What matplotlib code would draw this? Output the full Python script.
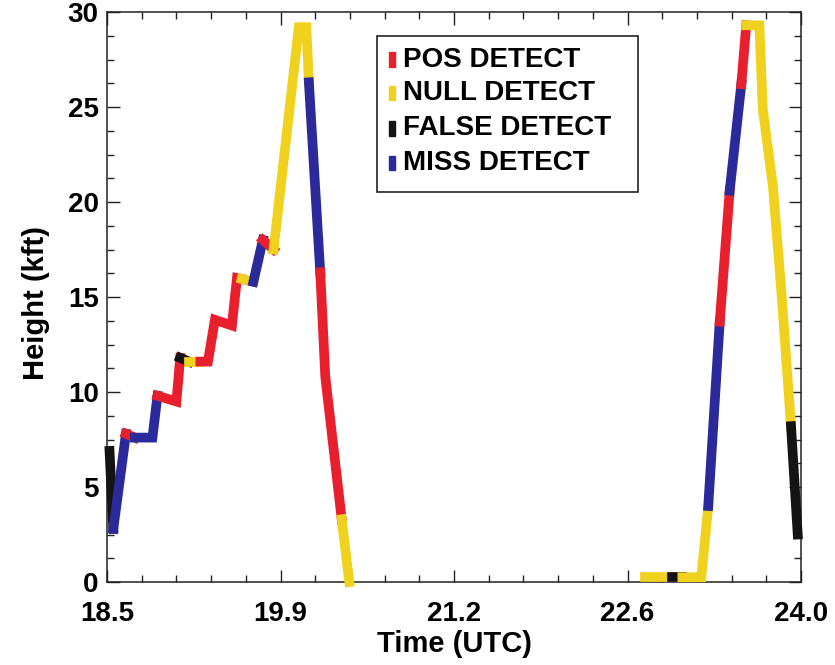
import matplotlib
matplotlib.use("Agg")
import matplotlib.pyplot as plt
from matplotlib.patches import Rectangle
from matplotlib.ticker import AutoMinorLocator, MultipleLocator

# flight track 1 (time UTC, height kft); seg1 gives the detect class of each leg
t1 = [18.52, 18.55, 18.65, 18.72, 18.86, 18.90, 19.05, 19.08, 19.15, 19.24,
      19.30, 19.355, 19.49, 19.53, 19.567, 19.66, 19.735, 19.82, 20.02, 20.08,
      20.10, 20.19, 20.23, 20.36, 20.42]
h1 = [6.9, 2.8, 7.8, 7.6, 7.6, 9.8, 9.5, 11.8, 11.6, 11.6,
      11.6, 13.8, 13.5, 16.0, 15.95, 15.8, 18.0, 17.5, 29.2, 29.2,
      26.3, 16.3, 10.8, 3.3, 0.0]
seg1 = ["FALSE", "MISS", "POS", "MISS", "MISS", "POS", "POS", "FALSE", "NULL",
        "POS", "POS", "POS", "POS", "POS", "NULL", "MISS", "POS", "NULL", "NULL",
        "NULL", "MISS", "POS", "POS", "NULL"]

# flight track 2
t2 = [22.76, 22.98, 23.06, 23.21, 23.265, 23.356, 23.435, 23.527, 23.566,
      23.67, 23.697, 23.777, 23.843, 23.921, 23.974]
h2 = [0.25, 0.25, 0.25, 0.25, 4.0, 13.7, 20.6, 26.2, 29.3,
      29.3, 24.9, 20.85, 15.4, 8.2, 2.5]
seg2 = ["NULL", "FALSE", "NULL", "NULL", "MISS", "POS", "MISS", "POS", "NULL",
        "NULL", "NULL", "NULL", "NULL", "FALSE"]

classes = ["POS", "NULL", "FALSE", "MISS"]
class_labels = ["POS DETECT", "NULL DETECT", "FALSE DETECT", "MISS DETECT"]
colors = {"POS": "#e8202e", "NULL": "#f0d21e", "FALSE": "#141414", "MISS": "#2a2a9a"}

xticks = [18.5, 19.875, 21.25, 22.625, 24.0]
xtick_labels = ["18.5", "19.9", "21.2", "22.6", "24.0"]

plt.rcParams['font.family'] = ['Liberation Sans', 'DejaVu Sans']
plt.rcParams['font.weight'] = 'bold'

fig = plt.figure(figsize=(8.35, 6.65), dpi=100)
ax = fig.add_axes([107 / 835, 83 / 665, 694 / 835, 570 / 665])


def draw_track(t, h, seg):
    # join consecutive legs of the same class into one polyline
    start = 0
    for i in range(1, len(seg) + 1):
        if i == len(seg) or seg[i] != seg[start]:
            ax.plot(t[start:i + 1], h[start:i + 1], color=colors[seg[start]],
                    lw=7, solid_capstyle='projecting', solid_joinstyle='miter',
                    zorder=3, clip_on=False)
            start = i


draw_track(t1, h1, seg1)
draw_track(t2, h2, seg2)

ax.set_xlim(18.5, 24.0)
ax.set_ylim(0, 30)
ax.set_xticks(xticks, xtick_labels)
ax.xaxis.set_minor_locator(AutoMinorLocator(5))
ax.yaxis.set_major_locator(MultipleLocator(5))
ax.yaxis.set_minor_locator(AutoMinorLocator(4))
ax.tick_params(which='both', direction='in', top=True, right=True, width=1.0,
               color='#222222')
ax.tick_params(which='major', length=9)
ax.tick_params(which='minor', length=5)
ax.tick_params(axis='x', labelsize=20, pad=14)
ax.tick_params(axis='y', labelsize=20, pad=6)
for lab in ax.get_xticklabels() + ax.get_yticklabels():
    lab.set_fontweight('bold')
ylabs = ax.get_yticklabels()
ylabs[0].set_va('bottom')
ylabs[-1].set_va('top')
for s in ax.spines.values():
    s.set_linewidth(1.1)
    s.set_color('#222222')

fig.text(455 / 835, 1 - 644 / 665, "Time (UTC)", ha='center', va='center',
         fontsize=21, fontweight='bold')
fig.text(36 / 835, 1 - 303 / 665, "Height (kft)", ha='center', va='center',
         rotation=90, fontsize=21, fontweight='bold')

# legend box drawn by hand
ax.add_patch(Rectangle((0.389, 0.684), 0.376, 0.274, transform=ax.transAxes,
                       fill=False, lw=1.2, edgecolor='#222222', zorder=4))
ys = [0.916, 0.858, 0.796, 0.735]
for c, lab, y in zip(classes, class_labels, ys):
    ax.add_patch(Rectangle((0.407, y - 0.013), 0.0086, 0.026, transform=ax.transAxes,
                           color=colors[c], zorder=4))
    ax.text(0.4265, y, lab, transform=ax.transAxes, ha='left', va='center',
            fontsize=20, fontweight='bold', zorder=4)

fig.savefig("out.png", dpi=100)
